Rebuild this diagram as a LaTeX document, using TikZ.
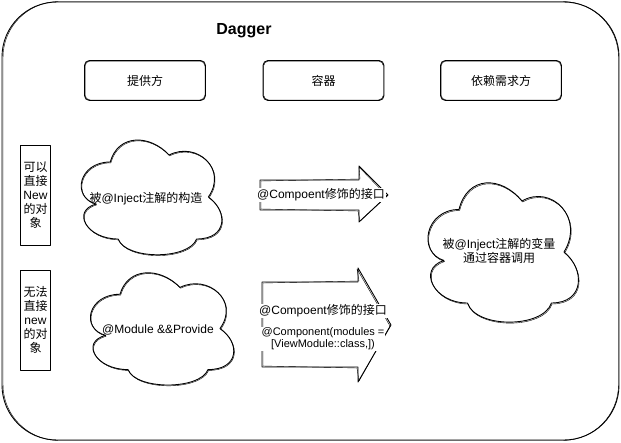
\documentclass[tikz,border=0pt]{standalone}
\usepackage{fontspec}
\setmainfont{Liberation Sans}
\newfontfamily\cjk{Noto Sans CJK SC}
\newcommand\mxcloud[5]{%
  \begin{scope}[shift={(#1,#2)}, x=#3pt, y=-#4pt]
    \path (0.5,0.5) coordinate (#5);
    \draw (0.25,0.25) .. controls (0.05,0.25) and (0,0.5) .. (0.16,0.55)
      .. controls (0,0.6) and (0.1,0.8) .. (0.3,0.8)
      .. controls (0.35,0.95) and (0.75,0.95) .. (0.8,0.8)
      .. controls (1,0.8) and (1,0.6) .. (0.875,0.5)
      .. controls (1,0.3) and (0.8,0.1) .. (0.625,0.2)
      .. controls (0.5,0.05) and (0.3,0.05) .. (0.25,0.25) -- cycle;
    \draw[line width=0.4pt, shift={(0.004,0.006)}] (0.25,0.25) .. controls (0.05,0.25) and (0,0.5) .. (0.16,0.55)
      .. controls (0,0.6) and (0.1,0.8) .. (0.3,0.8)
      .. controls (0.35,0.95) and (0.75,0.95) .. (0.8,0.8)
      .. controls (1,0.8) and (1,0.6) .. (0.875,0.5)
      .. controls (1,0.3) and (0.8,0.1) .. (0.625,0.2)
      .. controls (0.5,0.05) and (0.3,0.05) .. (0.25,0.25) -- cycle;
  \end{scope}}
\begin{document}
\begin{tikzpicture}[x=1pt,y=-1pt, line width=0.9pt, line join=round,
  txt/.style={font=\fontsize{12}{14}\selectfont, inner sep=1pt, align=center},
  small/.style={font=\fontsize{11}{12}\selectfont, inner sep=1pt, align=center},
  hdr/.style={draw, rounded corners=5pt, minimum width=121pt, minimum height=40pt, txt},
  side/.style={draw, minimum width=30pt, minimum height=100pt, txt, inner sep=0pt},
  lbl/.style={txt, fill=white},
]
\useasboundingbox (0,0) rectangle (621,442);
\draw[rounded corners=55pt] (2,2) rectangle (619,440);
\draw[rounded corners=56pt, line width=0.4pt] (3,1.5) rectangle (618.5,440.5);
\node[font=\bfseries\fontsize{16}{18}\selectfont] (title) at (244,31) {Dagger};
\node[hdr] (p) at (145,80.5) {{\cjk 提供方}};
\node[hdr] (c) at (323.5,80.5) {{\cjk 容器}};
\node[hdr] (d) at (501,80.5) {{\cjk 依赖需求方}};
\draw[rounded corners=5pt, line width=0.4pt] ([shift={(1,-1)}]p.south west) rectangle ([shift={(-1,1)}]p.north east);
\draw[rounded corners=5pt, line width=0.4pt] ([shift={(1,-1)}]c.south west) rectangle ([shift={(-1,1)}]c.north east);
\draw[rounded corners=5pt, line width=0.4pt] ([shift={(1,-1)}]d.south west) rectangle ([shift={(-1,1)}]d.north east);
\node[side] (s1) at (35.5,195) {{\cjk 可以}\\{\cjk 直接}\\New\\{\cjk 的对}\\{\cjk 象}};
\node[side] (s2) at (35.5,320) {{\cjk 无法}\\{\cjk 直接}\\new\\{\cjk 的对}\\{\cjk 象}};
% clouds
\mxcloud{71}{127}{157}{140}{c1}
\node[txt] (c1t) at (146,199) {{\cjk 被}@Inject{\cjk 注解的构造}};
\mxcloud{80}{260}{160}{137}{c2}
\node[txt] (c2t) at (158,330) {@Module \&\&Provide};
\mxcloud{417}{167}{168}{170}{c3}
\node[txt, align=center] (c3t) at (499,251) {{\cjk 被}@Inject{\cjk 注解的变量}\\{\cjk 通过容器调用}};
% arrows
\draw (260,180) -- (359,180) -- (359,166) -- (388,195) -- (359,222) -- (359,210) -- (260,210) -- cycle;
\draw[line width=0.4pt] (261,181) -- (360,179) -- (359,167) -- (387,196) -- (360,221) -- (358,211) -- (261,209) -- cycle;
\node[lbl] (a1t) at (321,195) {@Compoent{\cjk 修饰的接口}};
\draw (262,282) -- (358,282) -- (358,268) -- (391,325) -- (358,382) -- (358,367) -- (262,367) -- cycle;
\draw[line width=0.4pt] (263,283) -- (359,281) -- (357,269) -- (390,326) -- (359,381) -- (357,368) -- (263,366) -- cycle;
\node[lbl] (a2t) at (323,311) {@Compoent{\cjk 修饰的接口}};
\node[small, fill=white] (a2s) at (323,339) {@Component(modules =\\{}[ViewModule::class,])};
\end{tikzpicture}
\end{document}
